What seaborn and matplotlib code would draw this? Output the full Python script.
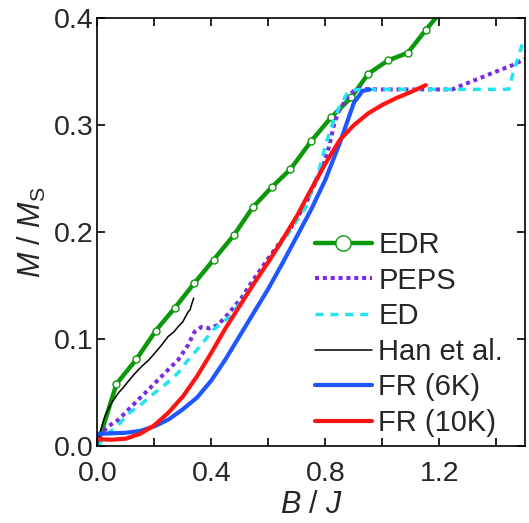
import numpy as np
import pandas as pd
import matplotlib
matplotlib.use("Agg")
import matplotlib.pyplot as plt
import seaborn as sns
from matplotlib.ticker import FixedLocator

# ---------------- data ----------------
edr_x = [0.0, 0.067, 0.137, 0.205, 0.272, 0.340, 0.408, 0.479, 0.545, 0.611, 0.677,
         0.750, 0.821, 0.891, 0.950, 1.019, 1.089, 1.152, 1.220]
edr_y = [0.0, 0.0577, 0.0808, 0.1076, 0.129, 0.152, 0.174, 0.197, 0.223, 0.2417, 0.2586,
         0.285, 0.3075, 0.326, 0.348, 0.3605, 0.3677, 0.389, 0.411]

peps_x = [0.003, 0.038, 0.073, 0.108, 0.143, 0.178, 0.213, 0.248, 0.283, 0.318, 0.341,
          0.365, 0.394, 0.423, 0.458, 0.505, 0.534, 0.604, 0.674, 0.732, 0.790, 0.814,
          0.831, 0.849, 0.878, 0.907, 1.000, 1.100, 1.245, 1.280, 1.339, 1.397, 1.455, 1.500]
peps_y = [0.0084, 0.018, 0.024, 0.0334, 0.0428, 0.052, 0.0615, 0.071, 0.080, 0.094, 0.1066,
          0.111, 0.1098, 0.113, 0.123, 0.138, 0.150, 0.177, 0.2018, 0.2267, 0.261, 0.281,
          0.3016, 0.314, 0.3265, 0.334, 0.3334, 0.3334, 0.3334, 0.3374, 0.3437, 0.350, 0.356, 0.362]

ed_x = [0.0, 0.038, 0.073, 0.108, 0.149, 0.190, 0.242, 0.283, 0.312, 0.359, 0.405, 0.470,
        0.510, 0.557, 0.662, 0.732, 0.780, 0.802, 0.830, 0.849, 0.875, 0.895, 1.000, 1.200,
        1.443, 1.461, 1.490, 1.500]
ed_y = [0.0, 0.0116, 0.019, 0.030, 0.0375, 0.047, 0.058, 0.068, 0.078, 0.0926, 0.108, 0.122,
        0.137, 0.155, 0.1955, 0.2236, 0.260, 0.283, 0.305, 0.317, 0.329, 0.333, 0.3335, 0.3335,
        0.3335, 0.351, 0.375, 0.380]

han_x = [0.0, 0.004, 0.009, 0.018, 0.026, 0.038, 0.050, 0.073, 0.090, 0.108, 0.130, 0.155,
         0.180, 0.201, 0.225, 0.248, 0.262, 0.270, 0.289, 0.300, 0.306, 0.318, 0.325, 0.330, 0.338]
han_y = [0.0, 0.006, 0.0116, 0.020, 0.027, 0.034, 0.040, 0.049, 0.054, 0.060, 0.067, 0.074,
         0.080, 0.0864, 0.094, 0.102, 0.105, 0.107, 0.113, 0.116, 0.119, 0.125, 0.127, 0.1316, 0.138]

fr6_x = [0.0, 0.05, 0.10, 0.15, 0.20, 0.25, 0.30, 0.35, 0.40, 0.45, 0.50, 0.55, 0.60, 0.65,
         0.70, 0.75, 0.80, 0.85, 0.90, 0.93, 0.955]
fr6_y = [0.011, 0.0115, 0.012, 0.0137, 0.018, 0.0245, 0.034, 0.045, 0.061, 0.081, 0.103,
         0.125, 0.147, 0.171, 0.196, 0.221, 0.249, 0.283, 0.321, 0.332, 0.3334]

fr10_x = [0.0, 0.05, 0.10, 0.15, 0.20, 0.25, 0.30, 0.35, 0.40, 0.45, 0.50, 0.55, 0.60, 0.65,
          0.70, 0.75, 0.80, 0.85, 0.90, 0.95, 1.00, 1.05, 1.10, 1.152]
fr10_y = [0.006, 0.0055, 0.0065, 0.011, 0.019, 0.031, 0.046, 0.065, 0.087, 0.110, 0.131,
          0.152, 0.172, 0.193, 0.215, 0.240, 0.264, 0.286, 0.300, 0.311, 0.319, 0.3255, 0.331, 0.3374]

labels = ["EDR", "PEPS", "ED", "Han et al.", "FR (6K)", "FR (10K)"]

# ---------------- style ----------------
sns.set_style("ticks")
plt.rcParams["font.family"] = ["Liberation Sans", "DejaVu Sans"]
plt.rcParams["mathtext.fontset"] = "custom"
plt.rcParams["mathtext.rm"] = "Liberation Sans"
plt.rcParams["mathtext.it"] = "Liberation Sans:italic"
plt.rcParams["mathtext.bf"] = "Liberation Sans:bold"

green = "#0b980b"
purple = "#7b2be2"
cyan = "#20e4f0"
black = "#000000"
blue = "#1f56ff"
red = "#ff1414"

fig = plt.figure(figsize=(5.29, 5.23), dpi=100)
ax = fig.add_axes([0.184, 0.148, 0.8084, 0.817])

sns.lineplot(x=edr_x, y=edr_y, ax=ax, color=green, lw=3.2, marker="o", markersize=5,
             markerfacecolor="white", markeredgecolor=green, markeredgewidth=1,
             label=labels[0], sort=False, estimator=None)
sns.lineplot(x=peps_x, y=peps_y, ax=ax, color=purple, lw=2.9, linestyle=(0, (1, 0.95)),
             label=labels[1], sort=False, estimator=None)
sns.lineplot(x=ed_x, y=ed_y, ax=ax, color=cyan, lw=2.5, linestyle=(0, (2.3, 2.0)),
             label=labels[2], sort=False, estimator=None)
sns.lineplot(x=han_x, y=han_y, ax=ax, color=black, lw=1.1,
             label=labels[3], sort=False, estimator=None)
sns.lineplot(x=fr6_x, y=fr6_y, ax=ax, color=blue, lw=3,
             label=labels[4], sort=False, estimator=None)
sns.lineplot(x=fr10_x, y=fr10_y, ax=ax, color=red, lw=3,
             label=labels[5], sort=False, estimator=None)

ax.set_xlim(0, 1.5)
ax.set_ylim(0, 0.4)
ax.xaxis.set_major_locator(FixedLocator([0.0, 0.4, 0.8, 1.2]))
ax.xaxis.set_minor_locator(FixedLocator([0.2, 0.6, 1.0, 1.4]))
ax.set_xticklabels(["0.0", "0.4", "0.8", "1.2"])
ax.set_yticks([0.0, 0.1, 0.2, 0.3, 0.4])
ax.set_yticklabels(["0.0", "0.1", "0.2", "0.3", "0.4"])
ax.tick_params(which="both", direction="in", top=True, right=True, length=6,
               width=1.2, labelsize=20.5, color="black")
ax.tick_params(axis="x", which="both", pad=11)
ax.tick_params(axis="y", which="both", pad=3)
for s in ax.spines.values():
    s.set_linewidth(1.2)
    s.set_color("black")

ax.set_xlabel(r"$B$ / $J$", fontsize=22, labelpad=2)
ax.set_ylabel(r"$M$ / $M_{\rm S}$", fontsize=22, labelpad=4)

leg = ax.legend(loc="upper left", bbox_to_anchor=(0.509, 0.502), frameon=False,
                fontsize=21, borderpad=0, borderaxespad=0, handlelength=1.95,
                handletextpad=0.22, labelspacing=0.26, numpoints=1)
h = leg.legend_handles[0]
h.set_markersize(11)
h.set_markeredgewidth(1)

fig.savefig("out.png", dpi=100)
